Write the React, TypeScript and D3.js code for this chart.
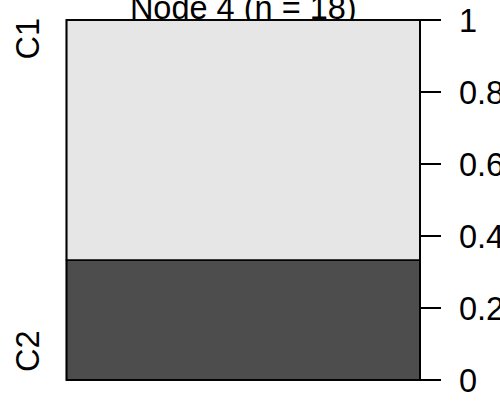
import React from "react";
import * as d3 from "d3";

const categories = ["C1", "C2"];
const counts = [12, 6];
const fills = ["#E6E6E6", "#4D4D4D"];
const tickValues = [0, 0.2, 0.4, 0.6, 0.8, 1];
const nodeId = 4;

const W = 500;
const H = 402;
const FONT = "'Liberation Sans', Arial, Helvetica, sans-serif";
const FS = 32.5;

export default function App() {
  const total = d3.sum(counts);
  const props = counts.map((c) => c / total);
  const left = 66.5;
  const right = 420;
  const y = d3.scaleLinear().domain([0, 1]).range([380, 20]);

  const segments: { cat: string; y0: number; y1: number; fill: string }[] = [];
  let acc = 0;
  for (let i = categories.length - 1; i >= 0; i--) {
    segments.push({ cat: categories[i], y0: acc, y1: acc + props[i], fill: fills[i] });
    acc += props[i];
  }

  return (
    <svg
      width={W}
      height={H}
      style={{ position: "absolute", left: 0, top: 0, background: "#fff" }}
      fontFamily={FONT}
    >
      <text x={(left + right) / 2} y={18.5} textAnchor="middle" fontSize={FS} fill="#000">
        {`Node ${nodeId} (n = ${total})`}
      </text>
      {segments.map((s) => (
        <rect
          key={s.cat}
          x={left}
          y={y(s.y1)}
          width={right - left}
          height={y(s.y0) - y(s.y1)}
          fill={s.fill}
          stroke="#000"
          strokeWidth={1.5}
        />
      ))}
      <rect
        x={left}
        y={y(1)}
        width={right - left}
        height={y(0) - y(1)}
        fill="none"
        stroke="#000"
        strokeWidth={1.8}
      />
      <line x1={right} x2={right} y1={y(0)} y2={y(1)} stroke="#000" strokeWidth={2} />
      {tickValues.map((t) => (
        <g key={t}>
          <line x1={right} x2={right + 21} y1={y(t)} y2={y(t)} stroke="#000" strokeWidth={2} />
          <text x={459} y={y(t)} dy="0.36em" fontSize={FS} fill="#000">
            {d3.format("~g")(t)}
          </text>
        </g>
      ))}
      <text
        transform={`translate(39,18) rotate(-90)`}
        textAnchor="end"
        fontSize={FS}
        fill="#000"
      >
        {categories[0]}
      </text>
      <text
        transform={`translate(39,372) rotate(-90)`}
        textAnchor="start"
        fontSize={FS}
        fill="#000"
      >
        {categories[1]}
      </text>
    </svg>
  );
}
